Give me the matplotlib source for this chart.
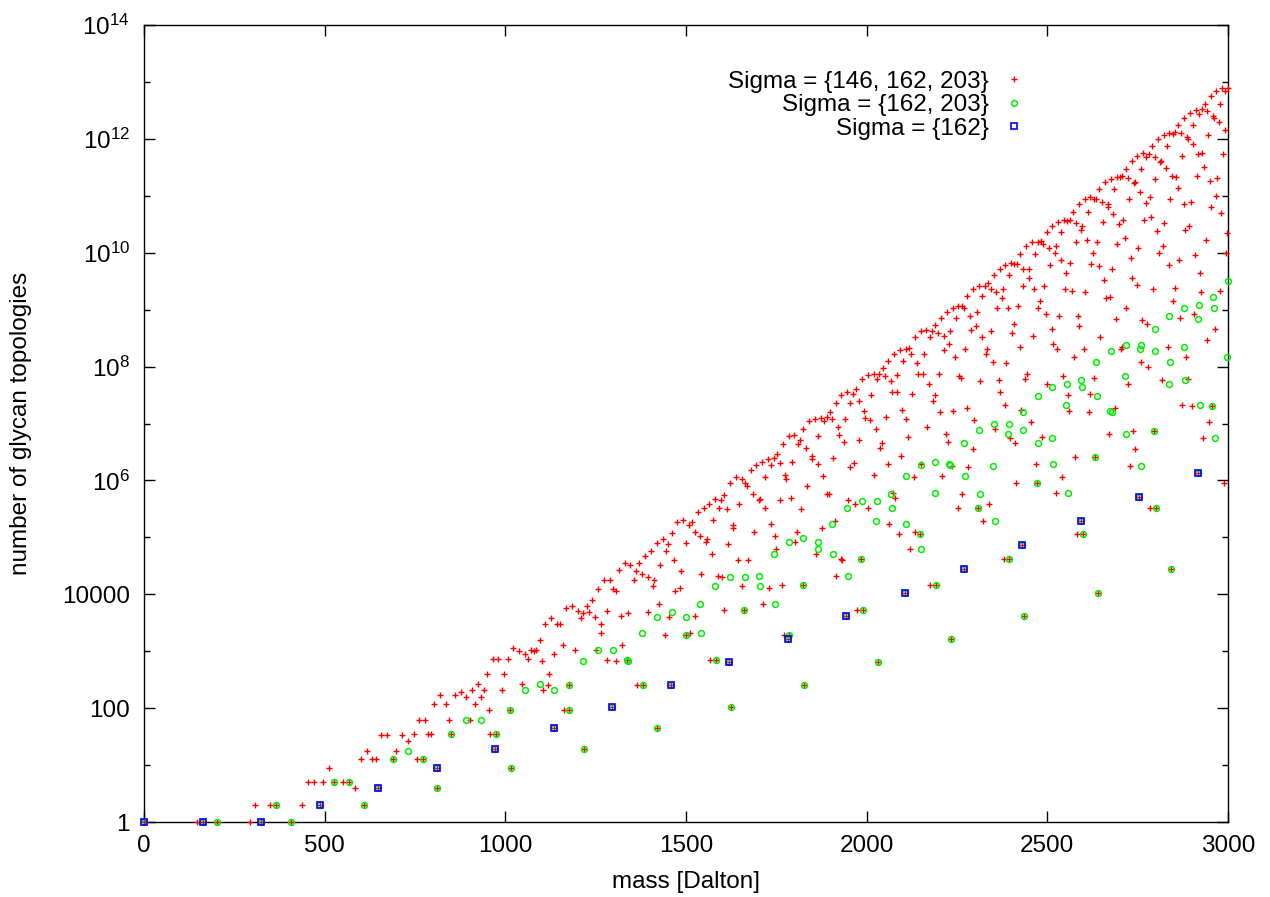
import matplotlib
matplotlib.use("Agg")
import matplotlib.pyplot as plt
from matplotlib.ticker import FixedLocator, FixedFormatter, NullLocator, NullFormatter

# number of glycan topologies per mass, three monosaccharide alphabets
BLUE_MASS = [0, 162, 324, 486, 648, 810, 972, 1134, 1296, 1458,
             1620, 1782, 1944, 2106, 2268, 2430, 2592, 2754, 2916]
BLUE_COUNT = [1, 1, 1, 2, 4, 9, 19, 45, 106, 260,
              643, 1.62e3, 4.14e3, 1.07e4, 2.78e4, 7.29e4, 1.93e5, 5.12e5, 1.37e6]

GREEN_MASS = [
    0, 162, 203, 324, 365, 406, 486, 527, 568, 609,
    648, 689, 730, 771, 810, 812, 851, 892, 933, 972,
    974, 1013, 1015, 1054, 1095, 1134, 1136, 1175, 1177, 1216,
    1218, 1257, 1296, 1298, 1337, 1339, 1378, 1380, 1419, 1421,
    1458, 1460, 1499, 1501, 1540, 1542, 1581, 1583, 1620, 1622,
    1624, 1661, 1663, 1702, 1704, 1743, 1745, 1782, 1784, 1786,
    1823, 1825, 1827, 1864, 1866, 1905, 1907, 1944, 1946, 1948,
    1985, 1987, 1989, 2026, 2028, 2030, 2067, 2069, 2106, 2108,
    2110, 2147, 2149, 2151, 2188, 2190, 2192, 2229, 2231, 2233,
    2268, 2270, 2272, 2309, 2311, 2313, 2350, 2352, 2354, 2391,
    2393, 2395, 2430, 2432, 2434, 2436, 2471, 2473, 2475, 2512,
    2514, 2516, 2553, 2555, 2557, 2592, 2594, 2596, 2598, 2633,
    2635, 2637, 2639, 2674, 2676, 2678, 2715, 2717, 2719, 2754,
    2756, 2758, 2760, 2795, 2797, 2799, 2801, 2836, 2838, 2840,
    2842, 2877, 2879, 2881, 2916, 2918, 2920, 2922, 2957, 2959,
    2961, 2963, 2998, 3000]
GREEN_COUNT = [
    1, 1, 1, 1, 2, 1, 2, 5, 5, 2,
    4, 13, 18, 13, 9, 4, 35, 63, 63, 19,
    35, 93, 9, 207, 266, 45, 207, 253, 93, 670,
    19, 1.05e3, 106, 1.05e3, 692, 670, 2.12e3, 253, 3.94e3, 45,
    260, 4.8e3, 1.91e3, 3.94e3, 6.66e3, 2.12e3, 1.42e4, 692, 643, 2.05e4,
    106, 5.28e3, 2.05e4, 2.07e4, 1.42e4, 5.01e4, 6.66e3, 1.62e3, 8.28e4, 1.91e3,
    1.47e4, 9.75e4, 260, 6.37e4, 8.28e4, 1.72e5, 5.01e4, 4.14e3, 3.23e5, 2.07e4,
    4.11e4, 4.37e5, 5.28e3, 1.95e5, 4.37e5, 643, 5.84e5, 3.23e5, 1.07e4, 1.22e6,
    1.72e5, 1.15e5, 1.86e6, 6.37e4, 5.96e5, 2.14e6, 1.47e4, 1.95e6, 1.86e6, 1.62e3,
    2.78e4, 4.49e6, 1.22e6, 3.23e5, 7.65e6, 5.84e5, 1.81e6, 9.93e6, 1.95e5, 6.45e6,
    9.93e6, 4.11e4, 7.29e4, 1.62e7, 7.65e6, 4.14e3, 9.11e5, 3.05e7, 4.49e6, 5.49e6,
    4.4e7, 1.95e6, 2.11e7, 4.97e7, 5.96e5, 1.93e5, 5.76e7, 4.4e7, 1.15e5, 2.57e6,
    1.18e8, 3.05e7, 1.07e4, 1.66e7, 1.88e8, 1.62e7, 6.84e7, 2.36e8, 6.45e6, 5.12e5,
    2.01e8, 2.36e8, 1.81e6, 7.26e6, 4.48e8, 1.88e8, 3.23e5, 5e7, 7.79e8, 1.18e8,
    2.78e4, 2.2e8, 1.08e9, 5.76e7, 1.37e6, 6.96e8, 1.2e9, 2.11e7, 2.06e7, 1.67e9,
    1.08e9, 5.49e6, 1.5e8, 3.14e9]

RED_MASS = [
    0, 146, 162, 203, 292, 308, 324, 349, 365, 406,
    438, 454, 470, 486, 495, 511, 527, 552, 568, 584,
    600, 609, 616, 632, 641, 648, 657, 673, 689, 698,
    714, 730, 746, 755, 762, 771, 778, 787, 794, 803,
    810, 812, 819, 835, 844, 851, 860, 876, 892, 901,
    908, 917, 924, 933, 940, 949, 956, 958, 965, 972,
    974, 981, 990, 997, 1006, 1013, 1015, 1022, 1038, 1047,
    1054, 1063, 1070, 1079, 1086, 1095, 1102, 1104, 1111, 1118,
    1120, 1127, 1134, 1136, 1143, 1152, 1159, 1161, 1168, 1175,
    1177, 1184, 1193, 1200, 1209, 1216, 1218, 1225, 1232, 1241,
    1248, 1250, 1257, 1264, 1266, 1273, 1280, 1282, 1289, 1296,
    1298, 1305, 1307, 1314, 1321, 1323, 1330, 1337, 1339, 1346,
    1355, 1362, 1364, 1371, 1378, 1380, 1387, 1394, 1396, 1403,
    1410, 1412, 1419, 1421, 1426, 1428, 1435, 1442, 1444, 1451,
    1453, 1458, 1460, 1467, 1469, 1476, 1483, 1485, 1492, 1499,
    1501, 1508, 1510, 1517, 1524, 1526, 1533, 1540, 1542, 1549,
    1556, 1558, 1565, 1567, 1572, 1574, 1581, 1583, 1588, 1590,
    1597, 1599, 1604, 1606, 1613, 1615, 1620, 1622, 1624, 1629,
    1631, 1638, 1645, 1647, 1654, 1656, 1661, 1663, 1670, 1672,
    1679, 1686, 1688, 1695, 1702, 1704, 1711, 1713, 1718, 1720,
    1727, 1729, 1734, 1736, 1743, 1745, 1750, 1752, 1759, 1761,
    1766, 1768, 1770, 1775, 1777, 1782, 1784, 1786, 1791, 1793,
    1800, 1802, 1807, 1809, 1816, 1818, 1823, 1825, 1827, 1832,
    1834, 1841, 1848, 1850, 1857, 1859, 1864, 1866, 1873, 1875,
    1880, 1882, 1889, 1891, 1896, 1898, 1905, 1907, 1912, 1914,
    1916, 1921, 1923, 1928, 1930, 1932, 1937, 1939, 1944, 1946,
    1948, 1953, 1955, 1962, 1964, 1969, 1971, 1973, 1978, 1980,
    1985, 1987, 1989, 1994, 1996, 2003, 2005, 2010, 2012, 2019,
    2021, 2026, 2028, 2030, 2035, 2037, 2042, 2044, 2051, 2053,
    2058, 2060, 2062, 2067, 2069, 2074, 2076, 2078, 2083, 2085,
    2090, 2092, 2094, 2099, 2101, 2106, 2108, 2110, 2115, 2117,
    2119, 2124, 2126, 2131, 2133, 2135, 2140, 2142, 2147, 2149,
    2151, 2156, 2158, 2165, 2167, 2172, 2174, 2176, 2181, 2183,
    2188, 2190, 2192, 2197, 2199, 2204, 2206, 2208, 2213, 2215,
    2220, 2222, 2224, 2229, 2231, 2233, 2236, 2238, 2240, 2245,
    2247, 2252, 2254, 2256, 2261, 2263, 2265, 2268, 2270, 2272,
    2277, 2279, 2281, 2286, 2288, 2293, 2295, 2297, 2302, 2304,
    2309, 2311, 2313, 2318, 2320, 2322, 2327, 2329, 2334, 2336,
    2338, 2343, 2345, 2350, 2352, 2354, 2359, 2361, 2366, 2368,
    2370, 2375, 2377, 2379, 2382, 2384, 2386, 2391, 2393, 2395,
    2398, 2400, 2402, 2407, 2409, 2411, 2414, 2416, 2418, 2423,
    2425, 2427, 2430, 2432, 2434, 2436, 2439, 2441, 2443, 2448,
    2450, 2455, 2457, 2459, 2464, 2466, 2468, 2471, 2473, 2475,
    2480, 2482, 2484, 2489, 2491, 2496, 2498, 2500, 2505, 2507,
    2512, 2514, 2516, 2521, 2523, 2525, 2528, 2530, 2532, 2537,
    2539, 2541, 2544, 2546, 2548, 2553, 2555, 2557, 2560, 2562,
    2564, 2569, 2571, 2573, 2576, 2578, 2580, 2582, 2585, 2587,
    2589, 2592, 2594, 2596, 2598, 2601, 2603, 2605, 2610, 2612,
    2614, 2617, 2619, 2621, 2626, 2628, 2630, 2633, 2635, 2637,
    2639, 2642, 2644, 2646, 2651, 2653, 2658, 2660, 2662, 2667,
    2669, 2671, 2674, 2676, 2678, 2683, 2685, 2687, 2690, 2692,
    2694, 2699, 2701, 2703, 2706, 2708, 2710, 2715, 2717, 2719,
    2722, 2724, 2726, 2728, 2731, 2733, 2735, 2738, 2740, 2742,
    2744, 2747, 2749, 2751, 2754, 2756, 2758, 2760, 2763, 2765,
    2767, 2772, 2774, 2776, 2779, 2781, 2783, 2785, 2788, 2790,
    2792, 2795, 2797, 2799, 2801, 2804, 2806, 2808, 2813, 2815,
    2817, 2820, 2822, 2824, 2829, 2831, 2833, 2836, 2838, 2840,
    2842, 2845, 2847, 2849, 2852, 2854, 2856, 2861, 2863, 2865,
    2868, 2870, 2872, 2874, 2877, 2879, 2881, 2884, 2886, 2888,
    2890, 2893, 2895, 2897, 2900, 2902, 2904, 2906, 2909, 2911,
    2913, 2916, 2918, 2920, 2922, 2925, 2927, 2929, 2931, 2934,
    2936, 2938, 2941, 2943, 2945, 2947, 2950, 2952, 2954, 2957,
    2959, 2961, 2963, 2966, 2968, 2970, 2975, 2977, 2979, 2982,
    2984, 2986, 2988, 2991, 2993, 2995, 2998, 3000]
RED_COUNT = [
    1, 1, 1, 1, 1, 2, 1, 2, 2, 1,
    2, 5, 5, 2, 5, 9, 5, 5, 5, 4,
    13, 2, 18, 13, 13, 4, 34, 34, 13, 18,
    34, 27, 35, 13, 63, 13, 63, 35, 35, 119,
    9, 4, 171, 119, 63, 35, 171, 190, 156, 63,
    207, 119, 266, 156, 207, 398, 93, 35, 741, 19,
    35, 741, 207, 398, 741, 93, 9, 1.12e3, 994, 266,
    877, 741, 1.05e3, 994, 1.05e3, 1.56e3, 670, 207, 2.96e3, 253,
    398, 3.84e3, 45, 877, 2.96e3, 2.96e3, 1.29e3, 93, 5.71e3, 253,
    93, 6.29e3, 1.05e3, 5.08e3, 3.84e3, 4.6e3, 19, 6.29e3, 4.8e3, 7.96e3,
    3.94e3, 1.05e3, 1.23e4, 2.12e3, 2.96e3, 1.78e4, 692, 5.08e3, 1.78e4, 106,
    1.23e4, 1.12e4, 670, 2.63e4, 4.12e3, 1.29e3, 3.59e4, 692, 4.6e3, 3.27e4,
    1.78e4, 2.54e4, 253, 3.59e4, 2.26e4, 253, 4.69e4, 2.05e4, 4.8e3, 5.86e4,
    1.42e4, 1.78e4, 8.06e4, 45, 6.66e3, 3.27e4, 9.38e4, 1.91e3, 5.86e4, 7.66e4,
    3.94e3, 260, 1.18e5, 4.08e4, 1.12e4, 1.85e5, 1.3e4, 2.54e4, 2.01e5, 1.91e3,
    8.06e4, 1.63e5, 2.12e3, 1.85e5, 1.24e5, 4.12e3, 2.76e5, 1.04e5, 2.26e4, 3.24e5,
    8.28e4, 9.38e4, 3.89e5, 692, 5.01e4, 2.01e5, 4.67e5, 692, 2.07e4, 3.24e5,
    4.52e5, 2.05e4, 5.28e3, 5.56e5, 3.13e5, 7.66e4, 643, 9.08e5, 106, 1.44e5,
    1.63e5, 1.14e6, 4.04e4, 3.89e5, 1.05e6, 1.42e4, 5.28e3, 9.08e5, 7.83e5, 4.08e4,
    1.53e6, 5.81e5, 1.24e5, 1.9e6, 4.57e5, 4.67e5, 2.1e6, 6.66e3, 3.23e5, 1.14e6,
    2.36e6, 1.3e4, 1.72e5, 1.9e6, 2.46e6, 1.04e5, 6.37e4, 2.88e6, 2.04e6, 4.52e5,
    1.47e4, 4.45e6, 1.91e3, 1.23e6, 1.05e6, 1.62e3, 6.03e6, 1.91e3, 4.99e5, 2.1e6,
    6.33e6, 8.28e4, 1.25e5, 4.45e6, 5.17e6, 3.13e5, 1.47e4, 8.03e6, 260, 3.67e6,
    7.83e5, 1.1e7, 2.64e6, 2.36e6, 1.22e7, 5.01e4, 1.93e6, 6.03e6, 1.27e7, 1.44e5,
    1.22e6, 1.1e7, 1.32e7, 5.81e5, 5.84e5, 1.62e7, 1.21e7, 2.46e6, 1.95e5, 2.29e7,
    2.07e4, 8.78e6, 6.33e6, 4.11e4, 3.12e7, 4.04e4, 4.65e6, 1.22e7, 4.14e3, 3.61e7,
    4.57e5, 1.7e6, 2.29e7, 3.31e7, 2.04e6, 3.84e5, 4.11e7, 5.28e3, 2.47e7, 5.17e6,
    4.11e4, 6.09e7, 5.28e3, 1.68e7, 1.27e7, 7.2e7, 3.23e5, 1.16e7, 3.12e7, 7.38e7,
    1.23e6, 7.85e6, 6.09e7, 643, 7.27e7, 3.67e6, 4.49e6, 9.3e7, 6.88e7, 1.32e7,
    1.95e6, 1.26e8, 1.72e5, 5.63e7, 3.61e7, 5.96e5, 1.64e8, 4.99e5, 3.62e7, 7.2e7,
    1.15e5, 1.98e8, 2.64e6, 1.72e7, 1.26e8, 1.07e4, 2e8, 1.21e7, 5.69e6, 2.13e8,
    6.37e4, 1.64e8, 3.31e7, 1.17e6, 3.27e8, 1.25e5, 1.15e8, 7.38e7, 1.15e5, 4.15e8,
    1.93e6, 7.52e7, 1.64e8, 4.41e8, 8.78e6, 4.97e7, 3.27e8, 1.47e4, 4.24e8, 2.47e7,
    3.11e7, 5.28e8, 1.47e4, 3.94e8, 7.27e7, 1.62e7, 7.17e8, 1.22e6, 3.4e8, 1.98e8,
    6.45e6, 9e8, 4.65e6, 2.5e8, 4.15e8, 1.62e3, 1.81e6, 1.08e9, 1.68e7, 1.45e8,
    7.17e8, 3.23e5, 1.16e9, 6.88e7, 6.24e7, 1.15e9, 5.84e5, 2.78e4, 1.05e9, 2e8,
    1.88e7, 1.75e9, 1.7e6, 7.86e8, 4.41e8, 3.57e6, 2.33e9, 1.16e7, 5.19e8, 9e8,
    3.23e5, 2.63e9, 5.63e7, 3.29e8, 1.75e9, 1.95e5, 2.57e9, 1.64e8, 2.07e8, 2.93e9,
    3.84e5, 2.33e9, 4.24e8, 1.2e8, 4.12e9, 7.85e6, 2.03e9, 1.08e9, 5.76e7, 5.13e9,
    3.62e7, 1.61e9, 2.33e9, 4.11e4, 2.11e7, 6e9, 1.15e8, 1.07e9, 4.12e9, 4.11e4,
    5.49e6, 6.58e9, 3.94e8, 5.64e8, 6.44e9, 4.49e6, 9.11e5, 6.37e9, 1.16e9, 2.22e8,
    9.48e9, 1.72e7, 7.29e4, 5.23e9, 2.63e9, 4.14e3, 6.17e7, 1.29e10, 7.52e7, 3.65e9,
    5.13e9, 1.08e7, 1.53e10, 3.4e8, 2.3e9, 9.48e9, 1.95e6, 9.11e5, 1.56e10, 1.05e9,
    1.41e9, 1.6e10, 5.69e6, 1.43e10, 2.57e9, 8.4e8, 2.35e10, 4.97e7, 1.23e10, 6e9,
    4.54e8, 2.98e10, 2.5e8, 1e10, 1.29e10, 5.96e5, 2.01e8, 3.44e10, 7.86e8, 7.3e9,
    2.35e10, 1.17e6, 6.84e7, 3.75e10, 2.33e9, 4.45e9, 3.68e10, 3.11e7, 1.66e7, 3.77e10,
    6.58e9, 2.14e9, 5.28e10, 1.45e8, 2.57e6, 3.33e10, 1.53e10, 1.15e5, 7.79e8, 7.13e10,
    5.19e8, 1.93e5, 2.52e10, 2.98e10, 1.15e5, 2.01e8, 8.75e10, 2.03e9, 1.65e10, 5.28e10,
    1.62e7, 3.28e7, 9.4e10, 6.37e9, 1e10, 8.8e10, 6.24e7, 2.57e6, 8.89e10, 1.56e10,
    1.07e4, 5.9e9, 1.32e11, 3.29e8, 7.67e10, 3.44e10, 3.34e9, 1.73e11, 1.61e9, 6.25e10,
    7.13e10, 6.45e6, 1.68e9, 2.01e11, 5.23e9, 4.76e10, 1.32e11, 1.88e7, 6.96e8, 2.18e11,
    1.43e10, 3.21e10, 2.11e11, 2.07e8, 2.2e8, 2.22e11, 3.75e10, 1.8e10, 3.01e11, 1.07e9,
    5e7, 2.06e11, 8.75e10, 1.81e6, 8.01e9, 4.01e11, 3.65e9, 7.26e6, 1.67e11, 1.73e11,
    3.57e6, 2.7e9, 4.97e11, 1.23e10, 5.12e5, 1.18e11, 3.01e11, 1.2e8, 6.47e8, 5.55e11,
    3.77e10, 7.34e10, 4.89e11, 5.64e8, 9.88e7, 5.49e11, 9.4e10, 3.23e5, 4.28e10, 7.36e11,
    2.3e9, 7.26e6, 4.85e11, 2.01e11, 3.23e5, 2.43e10, 9.92e11, 1e10, 3.97e11, 4.01e11,
    5.76e7, 1.3e10, 1.19e12, 3.33e10, 3.07e11, 7.36e11, 2.22e8, 6.16e9, 1.29e12, 8.89e10,
    2.78e4, 2.19e11, 1.2e12, 1.41e9, 2.38e9, 1.32e12, 2.18e11, 1.37e11, 1.74e12, 7.3e9,
    7.05e8, 1.25e12, 4.97e11, 2.11e7, 7.12e10, 2.29e12, 2.52e10, 1.5e8, 1.07e12, 9.92e11,
    6.17e7, 2.94e10, 2.84e12, 7.67e10, 2.06e7, 8.1e11, 1.74e12, 8.4e8, 9.23e9, 3.24e12,
    2.22e11, 1.37e6, 5.36e11, 2.77e12, 4.45e9, 2.07e9, 3.34e12, 5.55e11, 5.49e6, 3.19e11,
    4.13e12, 1.65e10, 2.97e8, 3.07e12, 1.19e12, 1.08e7, 1.8e11, 5.66e12, 6.25e10, 2.06e7,
    2.56e12, 2.29e12, 4.54e8, 9.82e10, 6.96e12, 2.06e11, 1.99e12, 4.13e12, 2.14e9, 5e10,
    7.72e12, 5.49e11, 9.11e5, 1.46e12, 6.8e12, 1e10, 2.22e10, 7.91e12]

LABELS = ["Sigma = {146, 162, 203}", "Sigma = {162, 203}", "Sigma = {162}"]
Y_TICKS = [1, 100, 1e4, 1e6, 1e8, 1e10, 1e12, 1e14]
Y_TICK_LABELS = ["1", "100", "10000", r"$\mathregular{10^{6}}$", r"$\mathregular{10^{8}}$",
                 r"$\mathregular{10^{10}}$", r"$\mathregular{10^{12}}$", r"$\mathregular{10^{14}}$"]
Y_MINOR = [10, 1e3, 1e5, 1e7, 1e9, 1e11, 1e13]
X_TICKS = [0, 500, 1000, 1500, 2000, 2500, 3000]

plt.rcParams['font.family'] = ['Liberation Sans', 'DejaVu Sans']
plt.rcParams['mathtext.default'] = 'regular'
FS = 17.5

fig = plt.figure(figsize=(12.7, 8.97), dpi=100)
ax = fig.add_axes([144/1270, 75/897, 1084/1270, 797/897])

ax.plot(RED_MASS, RED_COUNT, ls='none', marker='+', ms=4.2, mew=1.0, color='#ff0000',
        clip_on=False, zorder=3, label=LABELS[0])
ax.plot(GREEN_MASS, GREEN_COUNT, ls='none', marker='o', ms=4.2, mew=1.1, mfc='none',
        color='#00ee00', clip_on=False, zorder=3, label=LABELS[1])
ax.plot(BLUE_MASS, BLUE_COUNT, ls='none', marker='s', ms=4.0, mew=1.2, mfc='none',
        color='#0000ff', clip_on=False, zorder=3, label=LABELS[2])

ax.set_yscale('log')
ax.set_xlim(0, 3000)
ax.set_ylim(1, 1e14)
ax.yaxis.set_major_locator(FixedLocator(Y_TICKS))
ax.yaxis.set_major_formatter(FixedFormatter(Y_TICK_LABELS))
ax.yaxis.set_minor_locator(FixedLocator(Y_MINOR))
ax.yaxis.set_minor_formatter(NullFormatter())
ax.xaxis.set_major_locator(FixedLocator(X_TICKS))
ax.xaxis.set_minor_locator(NullLocator())
ax.tick_params(which='both', direction='in', top=True, right=True, width=1.0, labelsize=FS)
ax.tick_params(which='major', length=8)
ax.tick_params(which='minor', length=4)
ax.tick_params(axis='x', pad=9)
ax.tick_params(axis='y', pad=10)
for s in ax.spines.values():
    s.set_linewidth(1.0)

ax.set_xlabel("mass [Dalton]", fontsize=FS)
ax.set_ylabel("number of glycan topologies", fontsize=FS)
ax.xaxis.set_label_coords(0.5, -0.062)
ax.yaxis.set_label_coords(-0.103, 0.5)

ax.legend(loc='upper right', bbox_to_anchor=(0.8137, 0.9425), markerfirst=False, frameon=False,
          fontsize=FS, handlelength=1.0, handletextpad=0.55, labelspacing=0.06,
          borderpad=0, borderaxespad=0, numpoints=1)

fig.savefig('out.png')
